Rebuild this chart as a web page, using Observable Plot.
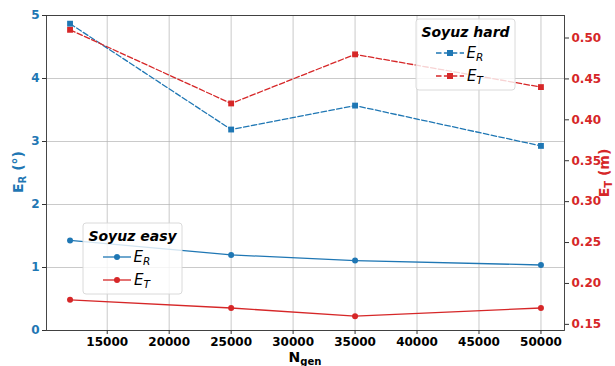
<!DOCTYPE html>
<html><head><meta charset="utf-8">
<script src="https://cdn.jsdelivr.net/npm/d3@7"></script>
<script src="https://cdn.jsdelivr.net/npm/@observablehq/plot@0.6"></script>
<style>
body{margin:0;background:#fff;}
#wrap{position:relative;width:615px;height:366px;font-family:"DejaVu Sans",sans-serif;}
#wrap > svg{position:absolute;left:0;top:0;}
</style></head><body><div id="wrap"></div>
<script>
// ---- data ----
const nGen = [12000, 25000, 35000, 50000];
const hardER = [4.87, 3.19, 3.57, 2.93];
const hardET = [0.51, 0.42, 0.48, 0.44];
const easyER = [1.43, 1.20, 1.11, 1.04];
const easyET = [0.18, 0.17, 0.16, 0.17];
const xTicks = [15000, 20000, 25000, 30000, 35000, 40000, 45000, 50000];
const yLeftTicks = [0, 1, 2, 3, 4, 5];
const yRightTicks = [0.15, 0.20, 0.25, 0.30, 0.35, 0.40, 0.45, 0.50];

// ---- layout ----
const W = 615, H = 366, mL = 46, mR = 51, mT = 15, mB = 36;
const blue = "#1f77b4", red = "#d62728";
const xDomain = [10100, 51900];
const rows = (vals) => nGen.map((n, i) => ({n, v: vals[i]}));
const common = {
  width: W, height: H, marginLeft: mL, marginRight: mR, marginTop: mT, marginBottom: mB,
  style: {fontFamily: "DejaVu Sans", fontSize: "12px", fontWeight: "bold", background: "transparent", overflow: "visible"}
};
const dash = "5.5,2.4";

const p1 = Plot.plot({
  ...common,
  x: {domain: xDomain, label: null},
  y: {domain: [0, 5], label: null},
  marks: [
    Plot.gridX(xTicks, {stroke: "#b0b0b0", strokeOpacity: 0.75, strokeWidth: 0.9}),
    Plot.gridY(yLeftTicks, {stroke: "#b0b0b0", strokeOpacity: 0.75, strokeWidth: 0.9}),
    Plot.axisX({ticks: xTicks, tickSize: 4, tickPadding: 3, tickFormat: d => String(d), fill: "#000", stroke: "#333", label: null}),
    Plot.axisY({ticks: yLeftTicks, tickSize: 4, tickPadding: 3, tickFormat: d => String(d), fill: blue, stroke: "#333", label: null}),
    Plot.line(rows(hardER), {x: "n", y: "v", stroke: blue, strokeWidth: 1.3, strokeDasharray: dash}),
    Plot.dot(rows(hardER), {x: "n", y: "v", symbol: "square", fill: blue, r: 3.3}),
    Plot.line(rows(easyER), {x: "n", y: "v", stroke: blue, strokeWidth: 1.3}),
    Plot.dot(rows(easyER), {x: "n", y: "v", symbol: "circle", fill: blue, r: 3}),
    Plot.frame({stroke: "#333", strokeWidth: 0.9})
  ]
});

const p2 = Plot.plot({
  ...common,
  x: {domain: xDomain, label: null, axis: null},
  y: {domain: [0.1425, 0.5275], label: null},
  marks: [
    Plot.axisY({anchor: "right", ticks: yRightTicks, tickSize: 4, tickPadding: 3, tickFormat: d3.format(".2f"), fill: red, stroke: "#333", label: null}),
    Plot.line(rows(hardET), {x: "n", y: "v", stroke: red, strokeWidth: 1.3, strokeDasharray: dash}),
    Plot.dot(rows(hardET), {x: "n", y: "v", symbol: "square", fill: red, r: 3.3}),
    Plot.line(rows(easyET), {x: "n", y: "v", stroke: red, strokeWidth: 1.3}),
    Plot.dot(rows(easyET), {x: "n", y: "v", symbol: "circle", fill: red, r: 3})
  ]
});

const wrap = document.getElementById("wrap");
wrap.appendChild(p1);
wrap.appendChild(p2);

// ---- labels and legends (real text) ----
const svg = d3.select(p2);
function subLabel(g, main, sub, tail, size, color) {
  const t = g.append("text").attr("fill", color).attr("font-size", size)
    .attr("font-weight", "bold").attr("font-family", "DejaVu Sans");
  t.append("tspan").text(main);
  t.append("tspan").attr("font-size", size * 0.72).attr("dy", size * 0.22).text(sub);
  if (tail) t.append("tspan").attr("dy", -size * 0.22).text(tail);
  return t;
}
// y left label
const gl = svg.append("g").attr("transform", "translate(23,172) rotate(-90)");
subLabel(gl, "E", "R", " (°)", 14, blue).attr("text-anchor", "middle");
// y right label
const gr = svg.append("g").attr("transform", "translate(609,173) rotate(-90)");
subLabel(gr, "E", "T", " (m)", 14, red).attr("text-anchor", "middle");
// x label
const gx = svg.append("g").attr("transform", "translate(305,362)");
subLabel(gx, "N", "gen", null, 14, "#000").attr("text-anchor", "middle");

function legend(x0, y0, w, h, title, dashed, symbol) {
  const g = svg.append("g");
  g.append("rect").attr("x", x0).attr("y", y0).attr("width", w).attr("height", h)
    .attr("rx", 3).attr("fill", "#fff").attr("fill-opacity", 0.8).attr("stroke", "#d6d6d6").attr("stroke-width", 0.9);
  g.append("text").attr("x", x0 + w / 2).attr("y", y0 + 18).attr("text-anchor", "middle")
    .attr("font-size", 14).attr("font-weight", "bold").attr("font-style", "italic").attr("fill", "#000")
    .attr("font-family", "DejaVu Sans").text(title);
  [[blue, "R"], [red, "T"]].forEach(([c, s], i) => {
    const y = y0 + 34 + i * 23;
    const lx0 = x0 + 20, lx1 = x0 + 48;
    const ln = g.append("line").attr("x1", lx0).attr("x2", lx1).attr("y1", y).attr("y2", y)
      .attr("stroke", c).attr("stroke-width", 1.3);
    if (dashed) ln.attr("stroke-dasharray", dash);
    const mx = (lx0 + lx1) / 2;
    if (symbol === "square") g.append("rect").attr("x", mx - 3).attr("y", y - 3).attr("width", 6).attr("height", 6).attr("fill", c);
    else g.append("circle").attr("cx", mx).attr("cy", y).attr("r", 3).attr("fill", c);
    const t = g.append("text").attr("x", lx1 + 11).attr("y", y + 5).attr("font-size", 15)
      .attr("font-style", "italic").attr("font-weight", "normal").attr("fill", "#000").attr("font-family", "DejaVu Sans");
    t.append("tspan").text("E");
    t.append("tspan").attr("font-size", 10.5).attr("dy", 3).text(s);
  });
}
legend(416, 19, 99, 71, "Soyuz hard", true, "square");
legend(83, 223, 99, 71, "Soyuz easy", false, "circle");
</script></body></html>
